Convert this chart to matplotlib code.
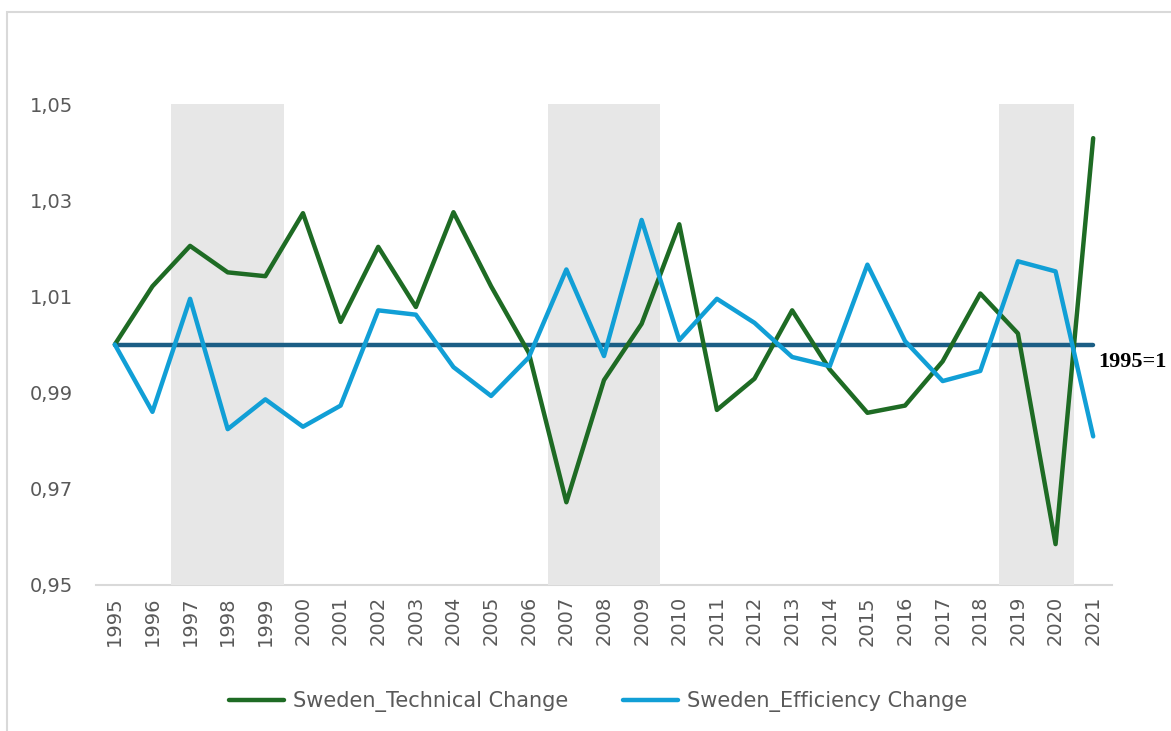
import matplotlib
matplotlib.use("Agg")
import matplotlib.pyplot as plt
from matplotlib.patches import Rectangle
import numpy as np

years = list(range(1995, 2022))
technical = [1.000, 1.0121, 1.0205, 1.0150, 1.0142, 1.0273, 1.0047, 1.0203, 1.0078, 1.0275,
             1.0121, 0.9983, 0.9672, 0.9926, 1.0043, 1.0250, 0.9864, 0.9929, 1.0071, 0.9948,
             0.9858, 0.9873, 0.9965, 1.0106, 1.0023, 0.9585, 1.0429]
efficiency = [1.000, 0.9860, 1.0095, 0.9824, 0.9886, 0.9829, 0.9873, 1.0071, 1.0062, 0.9953,
              0.9893, 0.9973, 1.0156, 0.9976, 1.0259, 1.0009, 1.0095, 1.0045, 0.9974, 0.9955,
              1.0166, 1.0007, 0.9924, 0.9945, 1.0173, 1.0152, 0.9809]
baseline = 1.0
shaded_periods = [(1997, 1999), (2007, 2009), (2019, 2020)]
yticks = [0.95, 0.97, 0.99, 1.01, 1.03, 1.05]
series_labels = ["Sweden_Technical Change", "Sweden_Efficiency Change"]
baseline_label = "1995=1"

plt.rcParams['font.family'] = ['DejaVu Sans']

fig = plt.figure(figsize=(11.71, 7.31), dpi=100)
ax = fig.add_axes([96/1171, 146/731, (1112-96)/1171, (585-104)/731])

# figure border
fig.patches.append(Rectangle((7/1171, -0.05), 1.2, (731-12)/731 + 0.05, transform=fig.transFigure,
                             fill=False, edgecolor='#D9D9D9', linewidth=1.5, zorder=0))

for a, b in shaded_periods:
    ax.axvspan(a - 0.5, b + 0.5, color='#E7E7E7', zorder=1, linewidth=0)

ax.plot(years, [baseline]*len(years), color='#1B5E85', linewidth=3.2, solid_capstyle='round', zorder=3)
l1, = ax.plot(years, technical, color='#1E6B24', linewidth=3.2, solid_capstyle='round',
              solid_joinstyle='round', zorder=4, label=series_labels[0])
l2, = ax.plot(years, efficiency, color='#119FD6', linewidth=3.2, solid_capstyle='round',
              solid_joinstyle='round', zorder=5, label=series_labels[1])

ax.text(years[-1] + 0.13, baseline - 0.0036, baseline_label, fontfamily='Liberation Serif',
        fontweight='bold', fontsize=16, color='black', va='center', ha='left', clip_on=False)

ax.set_xlim(years[0] - 0.5, years[-1] + 0.5)
ax.set_ylim(0.95, 1.05)
ax.set_yticks(yticks)
ax.set_yticklabels([f"{v:.2f}".replace('.', ',') for v in yticks])
ax.set_xticks(years)
ax.set_xticklabels([str(y) for y in years], rotation=90)
ax.tick_params(axis='both', length=0, colors='#595959', labelsize=14)
ax.tick_params(axis='y', pad=16.5)
ax.tick_params(axis='x', pad=8)

for s in ['top', 'right', 'left']:
    ax.spines[s].set_visible(False)
ax.spines['bottom'].set_color('#D9D9D9')
ax.spines['bottom'].set_linewidth(1.5)
ax.spines['bottom'].set_zorder(0.5)

leg = fig.legend(handles=[l1, l2], loc='center', bbox_to_anchor=(598/1171, (731-702)/731),
                 ncol=2, frameon=False, fontsize=15, handlelength=2.64, handletextpad=0.45,
                 columnspacing=2.6, labelcolor='#595959')

fig.savefig('out.png', dpi=100)
